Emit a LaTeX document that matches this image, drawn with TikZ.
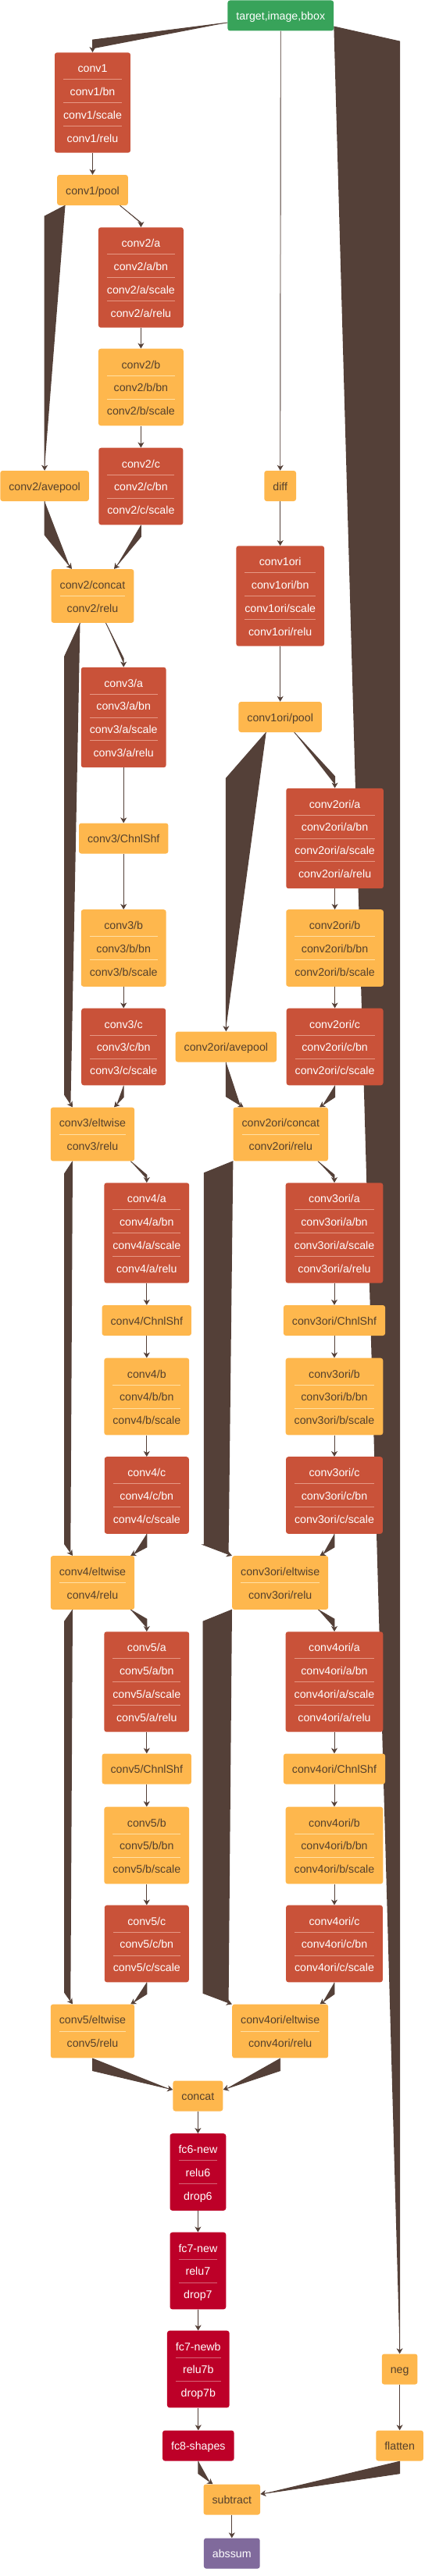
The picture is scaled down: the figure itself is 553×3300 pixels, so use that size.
\documentclass[tikz,border=0pt]{standalone}
\usepackage{fontspec}
\setmainfont{Liberation Sans}
\usepackage{colortbl}
\usetikzlibrary{arrows.meta,backgrounds}
\definecolor{cGreen}{RGB}{56,163,90}
\definecolor{cRed}{RGB}{201,82,57}
\definecolor{cYellow}{RGB}{254,183,77}
\definecolor{cCrimson}{RGB}{189,0,40}
\definecolor{cPurple}{RGB}{128,106,156}
\definecolor{cEdge}{RGB}{84,64,56}
\definecolor{cDark}{RGB}{84,64,44}
\definecolor{sepRed}{RGB}{230,152,132}
\definecolor{sepYellow}{RGB}{255,224,165}
\definecolor{sepCrimson}{RGB}{214,100,120}
\setlength{\arrayrulewidth}{0.8pt}
\newcommand{\layerrows}[1]{\begin{tabular}{@{}c@{}}#1\end{tabular}}
\newcommand{\blocka}[1]{\layerrows{#1/a\\\hline #1/a/bn\\\hline #1/a/scale\\\hline #1/a/relu}}
\newcommand{\blockb}[1]{\layerrows{#1/b\\\hline #1/b/bn\\\hline #1/b/scale}}
\newcommand{\blockc}[1]{\layerrows{#1/c\\\hline #1/c/bn\\\hline #1/c/scale}}
\newcommand{\blockelt}[1]{\layerrows{#1/eltwise\\\hline #1/relu}}
\begin{document}
\begin{tikzpicture}[x=1pt, y=-1pt,
    layerbox/.style={rounded corners=3pt, inner xsep=11pt, inner ysep=5pt,
      font=\fontsize{14.2}{29}\selectfont},
    green box/.style={layerbox, fill=cGreen, text=white},
    red box/.style={layerbox, fill=cRed, text=white, execute at begin node=\arrayrulecolor{sepRed}},
    yellow box/.style={layerbox, fill=cYellow, text=cDark, execute at begin node=\arrayrulecolor{sepYellow}},
    fc box/.style={layerbox, fill=cCrimson, text=white, execute at begin node=\arrayrulecolor{sepCrimson}},
    sum box/.style={layerbox, fill=cPurple, text=white},
    flow/.style={draw=cEdge, fill=cEdge, line width=0.9pt, -{Stealth[length=7pt,width=8pt,inset=2pt]}}]
    \useasboundingbox (0,0) rectangle (553,3300);

    \node[green box] (target) at (359.3,20) {\layerrows{target,image,bbox}};
    \node[red box] (conv1) at (118.5,131.5) {\layerrows{conv1\\\hline conv1/bn\\\hline conv1/scale\\\hline conv1/relu}};
    \node[yellow box] (pool1) at (118.5,243.5) {\layerrows{conv1/pool}};
    \node[red box] (c2a) at (180.4,355.5) {\blocka{conv2}};
    \node[yellow box] (c2b) at (180.4,496) {\blockb{conv2}};
    \node[red box] (c2c) at (180.4,623) {\blockc{conv2}};
    \node[yellow box] (c2avg) at (57.1,622.5) {\layerrows{conv2/avepool}};
    \node[yellow box] (c2cat) at (118.5,763.5) {\layerrows{conv2/concat\\\hline conv2/relu}};
    \node[yellow box] (diff) at (358.7,622.5) {\layerrows{diff}};
    \node[red box] (o1) at (358.7,763.5) {\layerrows{conv1ori\\\hline conv1ori/bn\\\hline conv1ori/scale\\\hline conv1ori/relu}};
    \node[yellow box] (o1pool) at (358.7,918.5) {\layerrows{conv1ori/pool}};

    \node[red box] (c3a) at (158.2,919) {\blocka{conv3}};
    \node[yellow box] (c3shf) at (158.2,1074) {\layerrows{conv3/ChnlShf}};
    \node[yellow box] (c3b) at (158.2,1214.5) {\blockb{conv3}};
    \node[red box] (c3c) at (158.2,1341) {\blockc{conv3}};
    \node[yellow box] (c3elt) at (118.5,1453) {\blockelt{conv3}};
    \node[red box] (o2a) at (428.6,1074) {\blocka{conv2ori}};
    \node[yellow box] (o2b) at (428.6,1214.5) {\blockb{conv2ori}};
    \node[red box] (o2c) at (428.6,1341) {\blockc{conv2ori}};
    \node[yellow box] (o2avg) at (289.4,1341) {\layerrows{conv2ori/avepool}};
    \node[yellow box] (o2cat) at (359.3,1453) {\layerrows{conv2ori/concat\\\hline conv2ori/relu}};

    \node[red box] (c4a) at (187.8,1579.5) {\blocka{conv4}};
    \node[yellow box] (c4shf) at (187.8,1691.5) {\layerrows{conv4/ChnlShf}};
    \node[yellow box] (c4b) at (187.8,1789) {\blockb{conv4}};
    \node[red box] (c4c) at (187.8,1915.5) {\blockc{conv4}};
    \node[yellow box] (c4elt) at (118.5,2027.5) {\blockelt{conv4}};
    \node[red box] (o3a) at (428,1579.5) {\blocka{conv3ori}};
    \node[yellow box] (o3shf) at (428,1691.5) {\layerrows{conv3ori/ChnlShf}};
    \node[yellow box] (o3b) at (428,1789) {\blockb{conv3ori}};
    \node[red box] (o3c) at (428,1915.5) {\blockc{conv3ori}};
    \node[yellow box] (o3elt) at (358.7,2027.5) {\blockelt{conv3ori}};

    \node[red box] (c5a) at (187.8,2154.5) {\blocka{conv5}};
    \node[yellow box] (c5shf) at (187.8,2266) {\layerrows{conv5/ChnlShf}};
    \node[yellow box] (c5b) at (187.8,2364) {\blockb{conv5}};
    \node[red box] (c5c) at (187.8,2490) {\blockc{conv5}};
    \node[yellow box] (c5elt) at (118.5,2602) {\blockelt{conv5}};
    \node[red box] (o4a) at (428,2154.5) {\blocka{conv4ori}};
    \node[yellow box] (o4shf) at (428,2266) {\layerrows{conv4ori/ChnlShf}};
    \node[yellow box] (o4b) at (428,2364) {\blockb{conv4ori}};
    \node[red box] (o4c) at (428,2490) {\blockc{conv4ori}};
    \node[yellow box] (o4elt) at (358.7,2602) {\blockelt{conv4ori}};

    \node[yellow box] (concat) at (253.4,2685) {\layerrows{concat}};
    \node[fc box] (fc6) at (253.4,2782.5) {\layerrows{fc6-new\\\hline relu6\\\hline drop6}};
    \node[fc box] (fc7) at (253.4,2909) {\layerrows{fc7-new\\\hline relu7\\\hline drop7}};
    \node[fc box] (fc7b) at (253.8,3035) {\layerrows{fc7-newb\\\hline relu7b\\\hline drop7b}};
    \node[fc box] (fc8) at (253.8,3133) {\layerrows{fc8-shapes}};
    \node[yellow box] (neg) at (511.6,3035) {\layerrows{neg}};
    \node[yellow box] (flatten) at (511.6,3133) {\layerrows{flatten}};
    \node[yellow box] (subtract) at (296.8,3202) {\layerrows{subtract}};
    \node[sum box] (abssum) at (296.8,3271) {\layerrows{abssum}};

    \begin{scope}[on background layer]
    \foreach \a/\b in {target/diff, conv1/pool1, c2a/c2b, c2b/c2c, diff/o1, o1/o1pool,
        c3a/c3shf, c3shf/c3b, c3b/c3c, o2a/o2b, o2b/o2c,
        c4a/c4shf, c4shf/c4b, c4b/c4c, o3a/o3shf, o3shf/o3b, o3b/o3c,
        c5a/c5shf, c5shf/c5b, c5b/c5c, o4a/o4shf, o4shf/o4b, o4b/o4c,
        concat/fc6, fc6/fc7, fc7/fc7b, fc7b/fc8, neg/flatten, subtract/abssum}
      \draw[flow] (\a) -- (\b);

    \draw[flow] ([yshift=-9pt]target.west) -- ([yshift=16pt]conv1.north) -- (conv1.north);
    \draw[flow] ([yshift=-14pt]target.east) -- (neg.north |- 0,53) -- (neg.north);
    \draw[flow] ([xshift=-35pt]pool1.south) -- (c2avg.north |- 0,277) -- (c2avg.north);
    \draw[flow] ([xshift=35pt]pool1.south) -- ([yshift=6pt]c2a.north) -- (c2a.north);
    \draw[flow] (c2avg.south) -- ++(0,43) -- ([xshift=-26.5pt]c2cat.north);
    \draw[flow] (c2c.south) -- ++(0,15) -- ([xshift=27.5pt]c2cat.north);
    \draw[flow] ([xshift=-18pt]o1pool.south) -- (o2avg.north |- 0,997) -- (o2avg.north);
    \draw[flow] ([xshift=18pt]o1pool.south) -- ([yshift=15pt]o2a.north) -- (o2a.north);

    \draw[flow] ([xshift=-16pt]c2cat.south) -- ++(-20,43) |- ([xshift=-36pt,yshift=16pt]c3elt.north) -- ([xshift=-25.5pt]c3elt.north);
    \draw[flow] ([xshift=17pt]c2cat.south) -- ([yshift=11pt]c3a.north) -- (c3a.north);
    \draw[flow] (c3c.south) -- ++(0,15) -- ([xshift=27.5pt]c3elt.north);
    \draw[flow] (o2avg.south) -- ++(0,44) -- ([xshift=-47.6pt]o2cat.north);
    \draw[flow] (o2c.south) -- ++(0,15) -- ([xshift=49.7pt]o2cat.north);

    \draw[flow] ([xshift=-25.5pt]c3elt.south) -- ++(-10.5,16) |- ([xshift=-36pt,yshift=15pt]c4elt.north) -- ([xshift=-25.5pt]c4elt.north);
    \draw[flow] ([xshift=48.7pt]c3elt.south) -- ([yshift=10pt]c4a.north) -- (c4a.north);
    \draw[flow] (c4c.south) -- ++(0,17) -- ([xshift=48.7pt]c4elt.north);
    \draw[flow] (o2cat.south west) -- ++(-37,15) |- ([xshift=-37pt,yshift=14pt]o3elt.north west) -- (o3elt.north west);
    \draw[flow] ([xshift=47.6pt]o2cat.south) -- ([yshift=10pt]o3a.north) -- (o3a.north);
    \draw[flow] (o3c.south) -- ++(0,17) -- ([xshift=50.8pt]o3elt.north);

    \draw[flow] ([xshift=-25.5pt]c4elt.south) -- ++(-10.5,15) |- ([xshift=-36pt,yshift=15pt]c5elt.north) -- ([xshift=-25.5pt]c5elt.north);
    \draw[flow] ([xshift=48.7pt]c4elt.south) -- ([yshift=16pt]c5a.north) -- (c5a.north);
    \draw[flow] (c5c.south) -- ++(0,15) -- ([xshift=48.7pt]c5elt.north);
    \draw[flow] (o3elt.south west) -- ++(-37,15) |- ([xshift=-37pt,yshift=14pt]o4elt.north west) -- (o4elt.north west);
    \draw[flow] ([xshift=48.7pt]o3elt.south) -- ([yshift=16pt]o4a.north) -- (o4a.north);
    \draw[flow] (o4c.south) -- ++(0,15) -- ([xshift=50.8pt]o4elt.north);

    \draw[flow] (c5elt.south) -- ++(0,16) -- ([yshift=8pt]concat.west);
    \draw[flow] (o4elt.south) -- ++(0,16) -- ([yshift=8pt]concat.east);
    \draw[flow] (fc8.south) -- ++(0,16) -- ([xshift=-24.3pt]subtract.north);
    \draw[flow] (flatten.south) -- ++(0,16) -- ([yshift=7pt]subtract.east);
    \end{scope}
\end{tikzpicture}
\end{document}
